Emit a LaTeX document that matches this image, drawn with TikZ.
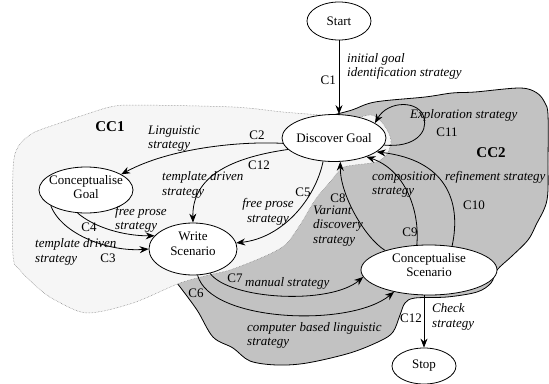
\documentclass[tikz,border=0pt]{standalone}
\usepackage{fontspec}
\setmainfont{Liberation Serif}
\newfontfamily\diagfont{Liberation Serif}
\usetikzlibrary{shapes.geometric,arrows.meta}
\definecolor{cctwo}{gray}{0.76}
\definecolor{ccone}{gray}{0.965}
\begin{document}
\begin{tikzpicture}[x=1pt,y=-1pt,
  state/.style={ellipse, draw, fill=white, line width=0.8pt, inner sep=0pt},
  nodetext/.style={align=center, font=\diagfont\fontsize{13}{14.5}\selectfont, inner sep=0pt},
  strat/.style={align=left, font=\diagfont\fontsize{13}{14.5}\selectfont\itshape, inner sep=0pt},
  cid/.style={font=\diagfont\fontsize{13}{14.5}\selectfont, inner sep=0pt},
  cluster/.style={font=\diagfont\fontsize{15}{16}\selectfont\bfseries, inner sep=0pt},
  link/.style={line width=0.8pt, -{Stealth[length=9pt,width=7pt,inset=3pt]}},
]
\useasboundingbox (0,0) rectangle (549,383);

% cluster CC2 (grey, solid outline)
\filldraw[fill=cctwo, draw=black, line width=0.8pt]
  plot[smooth, tension=0.55] coordinates {(333,115) (352,110) (375,102) (425,97) (452,93) (475,92)
    (520,88) (537,93) (545,103) (548,115) (548,160) (547,200) (536,225) (528,240) (512,256)
    (497,270) (491,283) (477,292) (447,297) (415,298) (405,303) (400,315) (393,332) (380,341)
    (350,353) (307,363) (277,365) (250,361) (233,348) (213,337) (197,310) (177,283)}
  -- (200,255) -- (300,170) -- cycle;

% cluster CC1 (light, dotted outline)
\filldraw[fill=ccone, draw=black!55, line width=0.5pt, dash pattern=on 0.5pt off 1pt]
  plot[smooth cycle, tension=0.5] coordinates {(333,116) (355,118) (372,115) (384,125) (391,140)
    (387,154) (376,162) (355,165) (342,168) (330,182) (315,200) (300,225) (285,245) (263,257)
    (230,270) (213,274) (180,283) (133,303) (87,313) (55,300) (38,288) (20,270) (13,255)
    (13,170) (18,147) (33,133) (60,123) (90,113) (110,107) (133,105) (233,107) (283,112)};

% states
\node[state, minimum width=64pt, minimum height=38pt] (start) at (339,21) {};
\node[nodetext] (start-t) at (start) {Start};
\node[state, minimum width=104pt, minimum height=47pt] (dg) at (334,138) {};
\node[nodetext] (dg-t) at (dg) {Discover Goal};
\node[state, minimum width=94pt, minimum height=46pt] (cg) at (86,190) {};
\node[nodetext] (cg-t) at ([yshift=3pt]cg.center) {Conceptualise\\Goal};
\node[state, minimum width=88pt, minimum height=52pt] (ws) at (193,249) {};
\node[nodetext] (ws-t) at ([yshift=5pt]ws.center) {Write\\Scenario};
\node[state, minimum width=136pt, minimum height=50pt] (cs) at (429,270) {};
\node[nodetext] (cs-t) at ([yshift=5pt]cs.center) {Conceptualise\\Scenario};
\node[state, minimum width=64pt, minimum height=36pt] (stop) at (424,366) {};
\node[nodetext] (stop-t) at (stop) {Stop};

% transitions
\draw[link] (start.south) -- (start |- dg.north);
\draw[link] (dg.186) .. controls (240,141) and (170,148) .. (cg.24);
\draw[link] (dg.194) .. controls (228,158) and (192,178) .. (ws.north);
\draw[link] (dg.245) .. controls (315,200) and (282,238) .. (ws.8);
\draw[link] (cg.250) .. controls (95,228) and (125,236) .. (ws.161);
\draw[link] (cg.204) .. controls (62,235) and (110,252) .. (ws.west);
\draw[link] (cs.156) .. controls (365,238) and (340,195) .. (dg.285);
\draw[link] (cs.116) .. controls (420,210) and (405,170) .. (dg.330);
\draw[link] (cs.46) .. controls (462,200) and (445,160) .. (dg.342);
\draw[link] (dg.352) .. controls (415,148) and (428,132) .. (424,118)
  .. controls (420,100) and (388,100) .. (dg.20);
\draw[link] (ws.305) .. controls (230,300) and (330,305) .. (cs.186);
\draw[link] (ws.280) .. controls (210,322) and (350,328) .. (cs.212);
\draw[link] (stop |- cs.south) -- (stop.north);

% cluster names
\node[cluster] (cc1) at (110,127) {CC1};
\node[cluster] (cc2) at (491,153) {CC2};

% transition labels
\node[cid, anchor=east] (l-c1) at (336,80) {C1};
\node[strat, anchor=west] (s-c1) at (347,66.5) {initial goal\\identification strategy};
\node[cid] (l-c2) at (257,135) {C2};
\node[strat, anchor=west] (s-c2) at (148,138.5) {Linguistic\\strategy};
\node[cid] (l-c12a) at (259,165) {C12};
\node[strat, anchor=west] (s-c12a) at (162,185) {template driven\\strategy};
\node[cid] (l-c5) at (303,192) {C5};
\node[strat, align=center] (s-c5) at (268,212) {free prose\\strategy};
\node[cid] (l-c4) at (89,227) {C4};
\node[strat, anchor=west] (s-c4) at (115,219.5) {free prose\\strategy};
\node[cid] (l-c3) at (108,258) {C3};
\node[strat, anchor=west] (s-c3) at (35,252) {template driven\\strategy};
\node[cid] (l-c8) at (338,198) {C8};
\node[strat, anchor=west] (s-c8) at (313,226) {Variant\\discovery\\strategy};
\node[strat, anchor=west] (s-c9) at (372,184.5) {composition\\strategy};
\node[cid] (l-c9) at (410,232) {C9};
\node[strat, anchor=west] (s-c10) at (445,177) {refinement strategy};
\node[cid] (l-c10) at (474,205) {C10};
\node[cid] (l-c11) at (447,132) {C11};
\node[strat, anchor=west] (s-c11) at (410,115) {Exploration strategy};
\node[cid] (l-c7) at (235,278) {C7};
\node[strat, anchor=west] (s-c7) at (245,283) {manual strategy};
\node[cid] (l-c6) at (196,293) {C6};
\node[strat, anchor=west] (s-c6) at (247,335.5) {computer based linguistic\\strategy};
\node[cid, anchor=east] (l-c12b) at (422,318) {C12};
\node[strat, anchor=west] (s-c12b) at (432,317) {Check\\strategy};
\end{tikzpicture}
\end{document}
